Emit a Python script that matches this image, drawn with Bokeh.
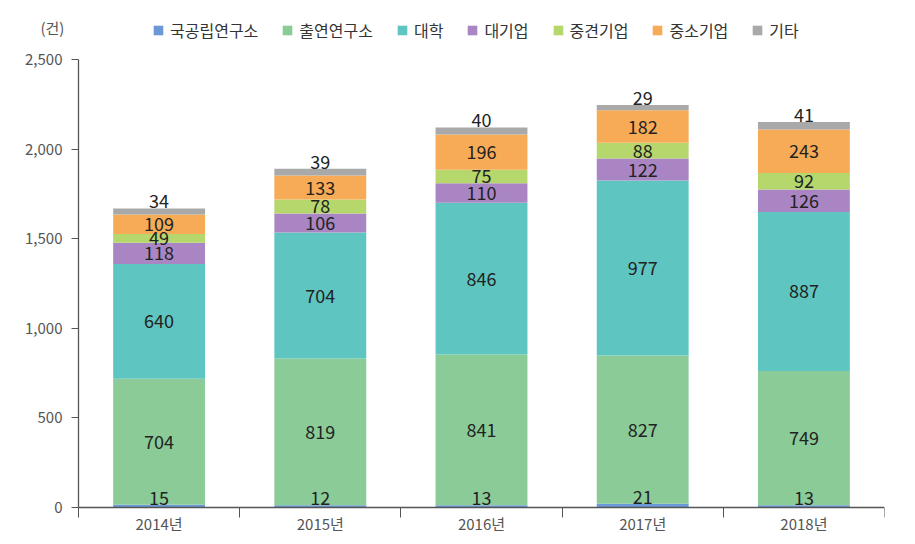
from bokeh.plotting import figure
from bokeh.models import ColumnDataSource, Range1d, Legend, LegendItem, NumeralTickFormatter, FixedTicker, Label
from bokeh.core.properties import value
from bokeh.embed import file_html
from bokeh.resources import INLINE

years = ["2014년", "2015년", "2016년", "2017년", "2018년"]
series_names = ["국공립연구소", "출연연구소", "대학", "대기업", "중견기업", "중소기업", "기타"]
national = [15, 12, 13, 21, 13]
gov_inst = [704, 819, 841, 827, 749]
univ = [640, 704, 846, 977, 887]
large = [118, 106, 110, 122, 126]
mid = [49, 78, 75, 88, 92]
small = [109, 133, 196, 182, 243]
other = [34, 39, 40, 29, 41]
colors = ["#6b98d6", "#8acb98", "#5fc5c0", "#aa85c4", "#b5d76c", "#f8ab57", "#a9a9a9"]
y_ticks = [0, 500, 1000, 1500, 2000, 2500]
unit_label = "(건)"

series = [national, gov_inst, univ, large, mid, small, other]
FONT = "Noto Sans CJK KR"
AX = "#555555"

n = len(years)
xpos = [i + 0.5 for i in range(n)]
ymax = y_ticks[-1]

# layout geometry (pixels)
W, H = 912, 542
FRAME_L, AXIS_X, FRAME_R = 15, 78, 884
FRAME_T, FRAME_B = 8, H
PLOT_TOP, PLOT_BOTTOM = 59, 507
px_x = (FRAME_R - AXIS_X) / n
px_y = (PLOT_BOTTOM - PLOT_TOP) / ymax
xstart = -(AXIS_X - FRAME_L) / px_x
ytop = (PLOT_BOTTOM - FRAME_T) / px_y
ybot = -(FRAME_B - PLOT_BOTTOM) / px_y

p = figure(x_range=Range1d(xstart, n), y_range=Range1d(ybot, ytop),
           width=W, height=H, output_backend="svg", toolbar_location=None,
           min_border_left=FRAME_L, min_border_right=W - FRAME_R, min_border_top=FRAME_T,
           min_border_bottom=H - FRAME_B)

data = {"x": xpos}
for name, vals in zip(series_names, series):
    data[name] = vals
src = ColumnDataSource(data)
renderers = p.vbar_stack(series_names, x="x", width=0.57, color=colors, source=src, line_width=0)

# labels
bottoms = [0] * n
lab_x, lab_y, lab_t, lab_base = [], [], [], []
for si, vals in enumerate(series):
    for i, v in enumerate(vals):
        b = bottoms[i]
        lab_x.append(xpos[i]); lab_t.append(str(v))
        if si == 0 or si == len(series) - 1:
            lab_y.append(b + v); lab_base.append("bottom")
        else:
            lab_y.append(b + v / 2); lab_base.append("middle")
        bottoms[i] += v
lsrc = ColumnDataSource(dict(x=lab_x, y=lab_y, t=lab_t, base=lab_base))
p.text(x="x", y="y", text="t", source=lsrc, text_align="center", text_baseline="base",
       text_font=value(FONT), text_font_size="18px", text_color="#222222")

# legend
legend = Legend(items=[LegendItem(label=nm, renderers=[r]) for nm, r in zip(series_names, renderers)],
                orientation="horizontal", label_text_font=FONT,
                label_text_font_size="16px", label_text_color="#333333", glyph_width=12, glyph_height=12,
                spacing=23, label_standoff=6, border_line_alpha=0, background_fill_alpha=0,
                padding=0, margin=0, location=(154 - 2 - FRAME_L, 465 + FRAME_B - PLOT_BOTTOM))
p.add_layout(legend, "center")

p.add_layout(Label(x=(40 - AXIS_X) / px_x, y=(PLOT_BOTTOM - 27) / px_y, text=unit_label,
                   text_font=FONT, text_font_size="15px", text_color="#555555", text_baseline="middle"))

p.grid.visible = False
p.outline_line_color = None

p.yaxis.fixed_location = 0
p.yaxis.ticker = FixedTicker(ticks=y_ticks, minor_ticks=[])
p.yaxis.bounds = (0, ymax)
p.yaxis.formatter = NumeralTickFormatter(format="0,0")
p.yaxis.major_tick_out = 7
p.yaxis.major_tick_in = 0
p.yaxis.major_label_standoff = 9

p.xaxis.fixed_location = 0
p.xaxis.bounds = (0, n)
p.xaxis.ticker = FixedTicker(ticks=xpos, minor_ticks=list(range(n + 1)))
p.xaxis.major_label_overrides = {x: y for x, y in zip(xpos, years)}
p.xaxis.major_tick_out = 0
p.xaxis.major_tick_in = 0
p.xaxis.minor_tick_out = 10
p.xaxis.minor_tick_in = 0
p.xaxis.major_label_standoff = -5

for ax in (p.xaxis, p.yaxis):
    ax.axis_line_color = AX
    ax.axis_line_width = 1.3
    ax.major_tick_line_color = AX
    ax.minor_tick_line_color = AX
    ax.major_label_text_font = FONT
    ax.major_label_text_font_size = "15px"
    ax.major_label_text_color = "#555555"

open("out.html", "w").write(file_html(p, INLINE))
